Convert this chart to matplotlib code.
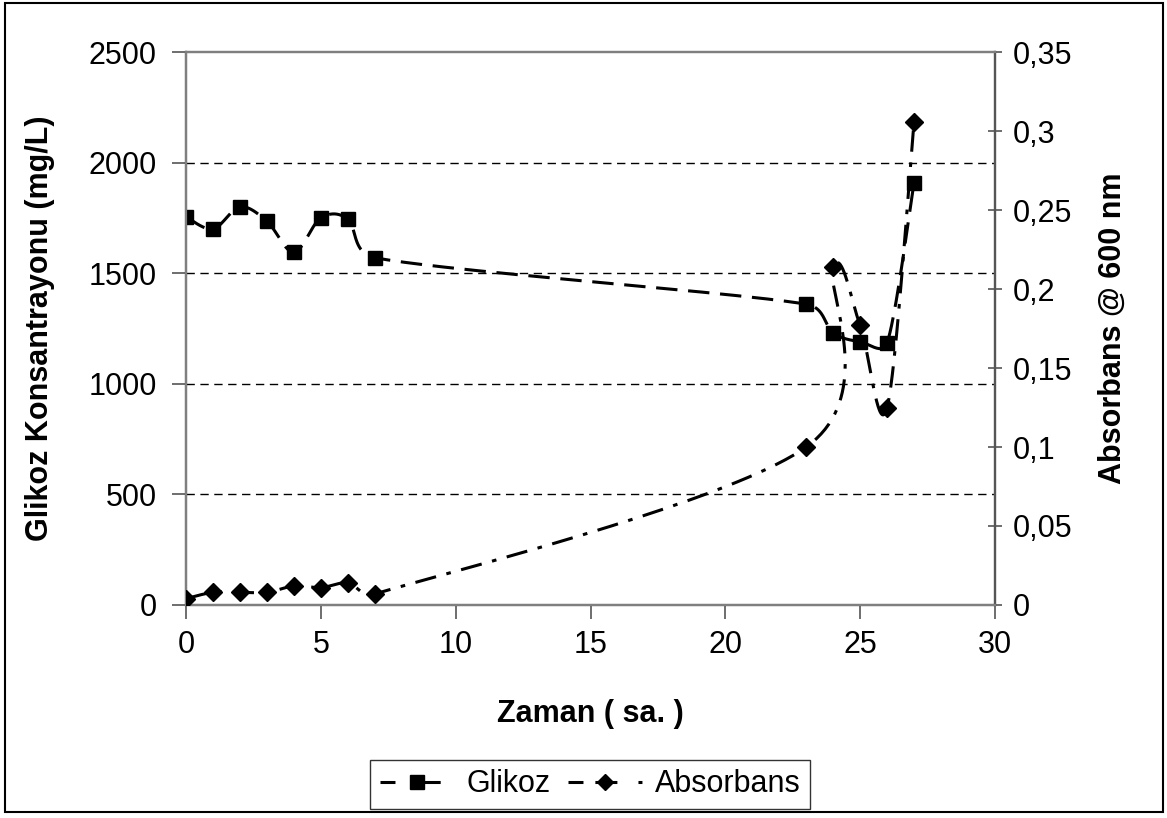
import numpy as np
import matplotlib
matplotlib.use("Agg")
import matplotlib.pyplot as plt
from matplotlib.patches import Rectangle

plt.rcParams.update({"font.family": ["Liberation Sans", "DejaVu Sans"]})

# ---- values ---------------------------------------------------------------
hours = [0, 1, 2, 3, 4, 5, 6, 7, 23, 24, 25, 26, 27]
glucose = [1755, 1700, 1800, 1735, 1595, 1750, 1745, 1570, 1360, 1230, 1190, 1185, 1910]
absorbance = [0.004, 0.008, 0.008, 0.008, 0.012, 0.011, 0.014, 0.007, 0.100, 0.214, 0.177, 0.125, 0.306]

left_ticks = [0, 500, 1000, 1500, 2000, 2500]
right_ticks = [0, 0.05, 0.1, 0.15, 0.2, 0.25, 0.3, 0.35]
right_labels = ["0", "0,05", "0,1", "0,15", "0,2", "0,25", "0,3", "0,35"]
x_ticks = [0, 5, 10, 15, 20, 25, 30]


def smooth(axis, xs, ys, n=40):
    # spreadsheet-style smoothed line, worked out in pixel space:
    # cubic Bezier with control points at 1/6 of the neighbour chord,
    # clipped to half the segment length so it does not loop back
    p = axis.transData.transform(np.column_stack([xs, ys]))
    ext = np.vstack([p[0], p, p[-1]])
    t = np.linspace(0, 1, n)[:, None]
    out = []
    for i in range(len(p) - 1):
        q0, q1, q2, q3 = ext[i], ext[i + 1], ext[i + 2], ext[i + 3]
        d02 = np.hypot(*(q2 - q0))
        d12 = np.hypot(*(q2 - q1))
        d13 = np.hypot(*(q3 - q1))
        f = 1 / 6 if d02 == 0 else min(1 / 6, d12 / (2 * d02))
        g = 1 / 6 if d13 == 0 else min(1 / 6, d12 / (2 * d13))
        c0 = q1 + (q2 - q0) * f
        c1 = q2 - (q3 - q1) * g
        seg = ((1 - t) ** 3) * q1 + 3 * ((1 - t) ** 2) * t * c0 + 3 * (1 - t) * t ** 2 * c1 + t ** 3 * q2
        out.append(seg if i == 0 else seg[1:])
    out = axis.transData.inverted().transform(np.vstack(out))
    return out[:, 0], out[:, 1]


fig = plt.figure(figsize=(11.67, 8.18), dpi=100)
ax = fig.add_axes([0.1594, 0.2604, 0.6932, 0.6760])
ax2 = ax.twinx()

FS = 22
gray = "#7f7f7f"
dark = "#555555"

ax.set_xlim(0, 30)
ax.set_ylim(0, 2500)
ax2.set_ylim(0, 0.35)
ax.set_xticks(x_ticks)
ax.set_yticks(left_ticks)
ax2.set_yticks(right_ticks)
ax2.set_yticklabels(right_labels)

for y in left_ticks[1:-1]:
    ax.axhline(y, color="black", lw=1.0, ls=(0, (6, 4)), zorder=1)

gx, gy = smooth(ax, hours, glucose)
ax.plot(gx, gy, color="black", lw=2.2, ls=(0, (7, 3.5)), zorder=3)
ax.plot(hours, glucose, ls="none", marker="s", ms=10.5, color="black", zorder=4)

bx, by = smooth(ax2, hours, absorbance)
ax2.plot(bx, by, color="black", lw=2.2, ls=(0, (7, 3.5, 1.5, 3.5)), zorder=3)
ax2.plot(hours, absorbance, ls="none", marker="D", ms=9, color="black", zorder=4)

for a in (ax, ax2):
    for s in a.spines.values():
        s.set_color(gray)
        s.set_linewidth(1.6)
ax2.spines["right"].set_color(dark)
ax.spines["left"].set_color(dark)
ax.spines["bottom"].set_color(dark)

ax.tick_params(axis="both", labelsize=FS, length=10, width=1.2, color=dark, pad=8, direction="out")
ax.tick_params(axis="y", pad=11)
ax2.tick_params(axis="y", labelsize=FS, length=10, width=1.2, color=dark, direction="inout", pad=8)

ax.set_xlabel("Zaman ( sa. )", fontsize=FS, fontweight="bold", labelpad=28)
ax.set_ylabel("Glikoz Konsantrayonu (mg/L)", fontsize=FS, fontweight="bold", labelpad=24)
ax2.set_ylabel("Absorbans @ 600 nm", fontsize=FS, fontweight="bold", labelpad=18)

h1 = plt.Line2D([], [], color="black", lw=2.2, ls=(0, (4.9, 9.2, 5.6, 20)), marker="s", ms=10)
h2 = plt.Line2D([], [], color="black", lw=2.2, ls=(0, (4.9, 3.9, 7.2, 6.9, 1.3, 20)), marker="D", ms=8)
leg = fig.legend([h1, h2], ["Glikoz", "Absorbans"], loc="center", bbox_to_anchor=(0.5056, 0.041),
                 ncol=2, fontsize=FS, frameon=True, fancybox=False, handlelength=2.45,
                 columnspacing=0.55, handletextpad=0.4, borderpad=0.3)
leg.get_frame().set_edgecolor("black")
leg.get_frame().set_linewidth(1.0)

fig.patches.append(Rectangle((0.0043, 0.0073), 0.9923, 0.989, transform=fig.transFigure,
                             fill=False, edgecolor="black", lw=1.5))

fig.savefig("out.png", dpi=100)
